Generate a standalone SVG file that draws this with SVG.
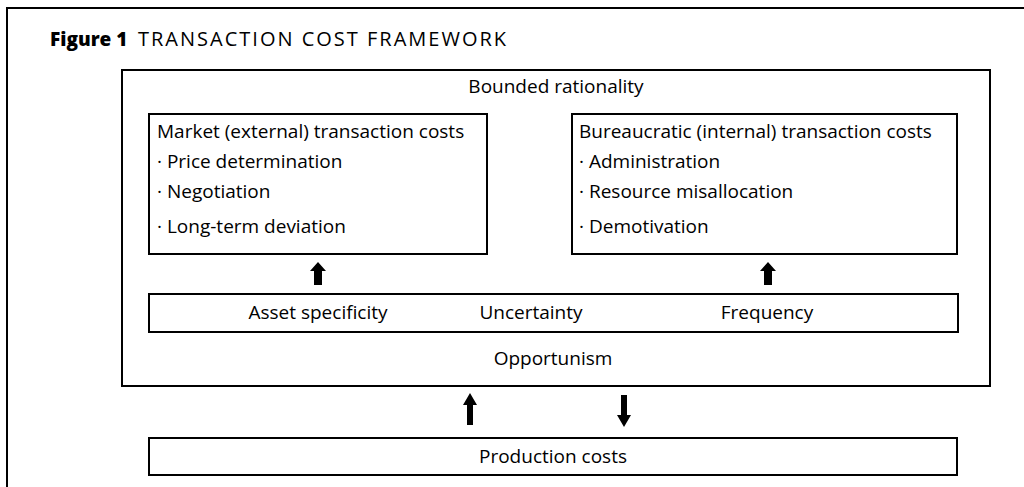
<svg xmlns="http://www.w3.org/2000/svg" width="1024" height="487" viewBox="0 0 1024 487">
<style>
text{font-family:"Open Sans",Lato,"Liberation Sans",sans-serif;font-size:19px;fill:#000}
.box{fill:#fff;stroke:#000;stroke-width:2}
.c{text-anchor:middle}
.frame{stroke:#000;stroke-width:2;fill:none}
.arr{fill:#000}
</style>
<rect width="1024" height="487" fill="#fff"/>
<g id="frame">
<path class="frame" d="M7,487 V8 H1024"/>
<text x="50" y="46" style="font-size:19px"><tspan font-weight="800">Figure 1</tspan><tspan x="138" style="font-size:20px" letter-spacing="2">TRANSACTION COST FRAMEWORK</tspan></text>
</g>
<g id="main">
<rect class="box" x="122" y="70" width="868" height="316"/>
<text class="c" x="556" y="93">Bounded rationality</text>
<text class="c" x="553" y="365">Opportunism</text>
</g>
<g id="market">
<rect class="box" x="149" y="114" width="338" height="140"/>
<text x="157" y="138">Market (external) transaction costs</text>
<text x="157" y="168">· Price determination</text>
<text x="157" y="198">· Negotiation</text>
<text x="157" y="233">· Long-term deviation</text>
</g>
<g id="bureaucratic">
<rect class="box" x="572" y="114" width="385" height="140"/>
<text x="579" y="138">Bureaucratic (internal) transaction costs</text>
<text x="579" y="168">· Administration</text>
<text x="579" y="198">· Resource misallocation</text>
<text x="579" y="233">· Demotivation</text>
</g>
<g id="factors">
<rect class="box" x="149" y="294" width="809" height="38"/>
<text class="c" x="318" y="319">Asset specificity</text>
<text class="c" x="531" y="319">Uncertainty</text>
<text class="c" x="767" y="319">Frequency</text>
</g>
<g id="production">
<rect class="box" x="149" y="438" width="808" height="37"/>
<text class="c" x="553" y="463">Production costs</text>
</g>
<g id="connectors">
<polygon class="arr" points="318,262 326,271 322,271 322,285 314,285 314,271 310,271"/>
<polygon class="arr" points="768,262 776,271 772,271 772,285 764,285 764,271 760,271"/>
<polygon class="arr" points="470,393 477,405 473,405 473,425 467,425 467,405 463,405"/>
<polygon class="arr" points="624,427 631,415 627,415 627,395 621,395 621,415 617,415"/>
</g>
</svg>
